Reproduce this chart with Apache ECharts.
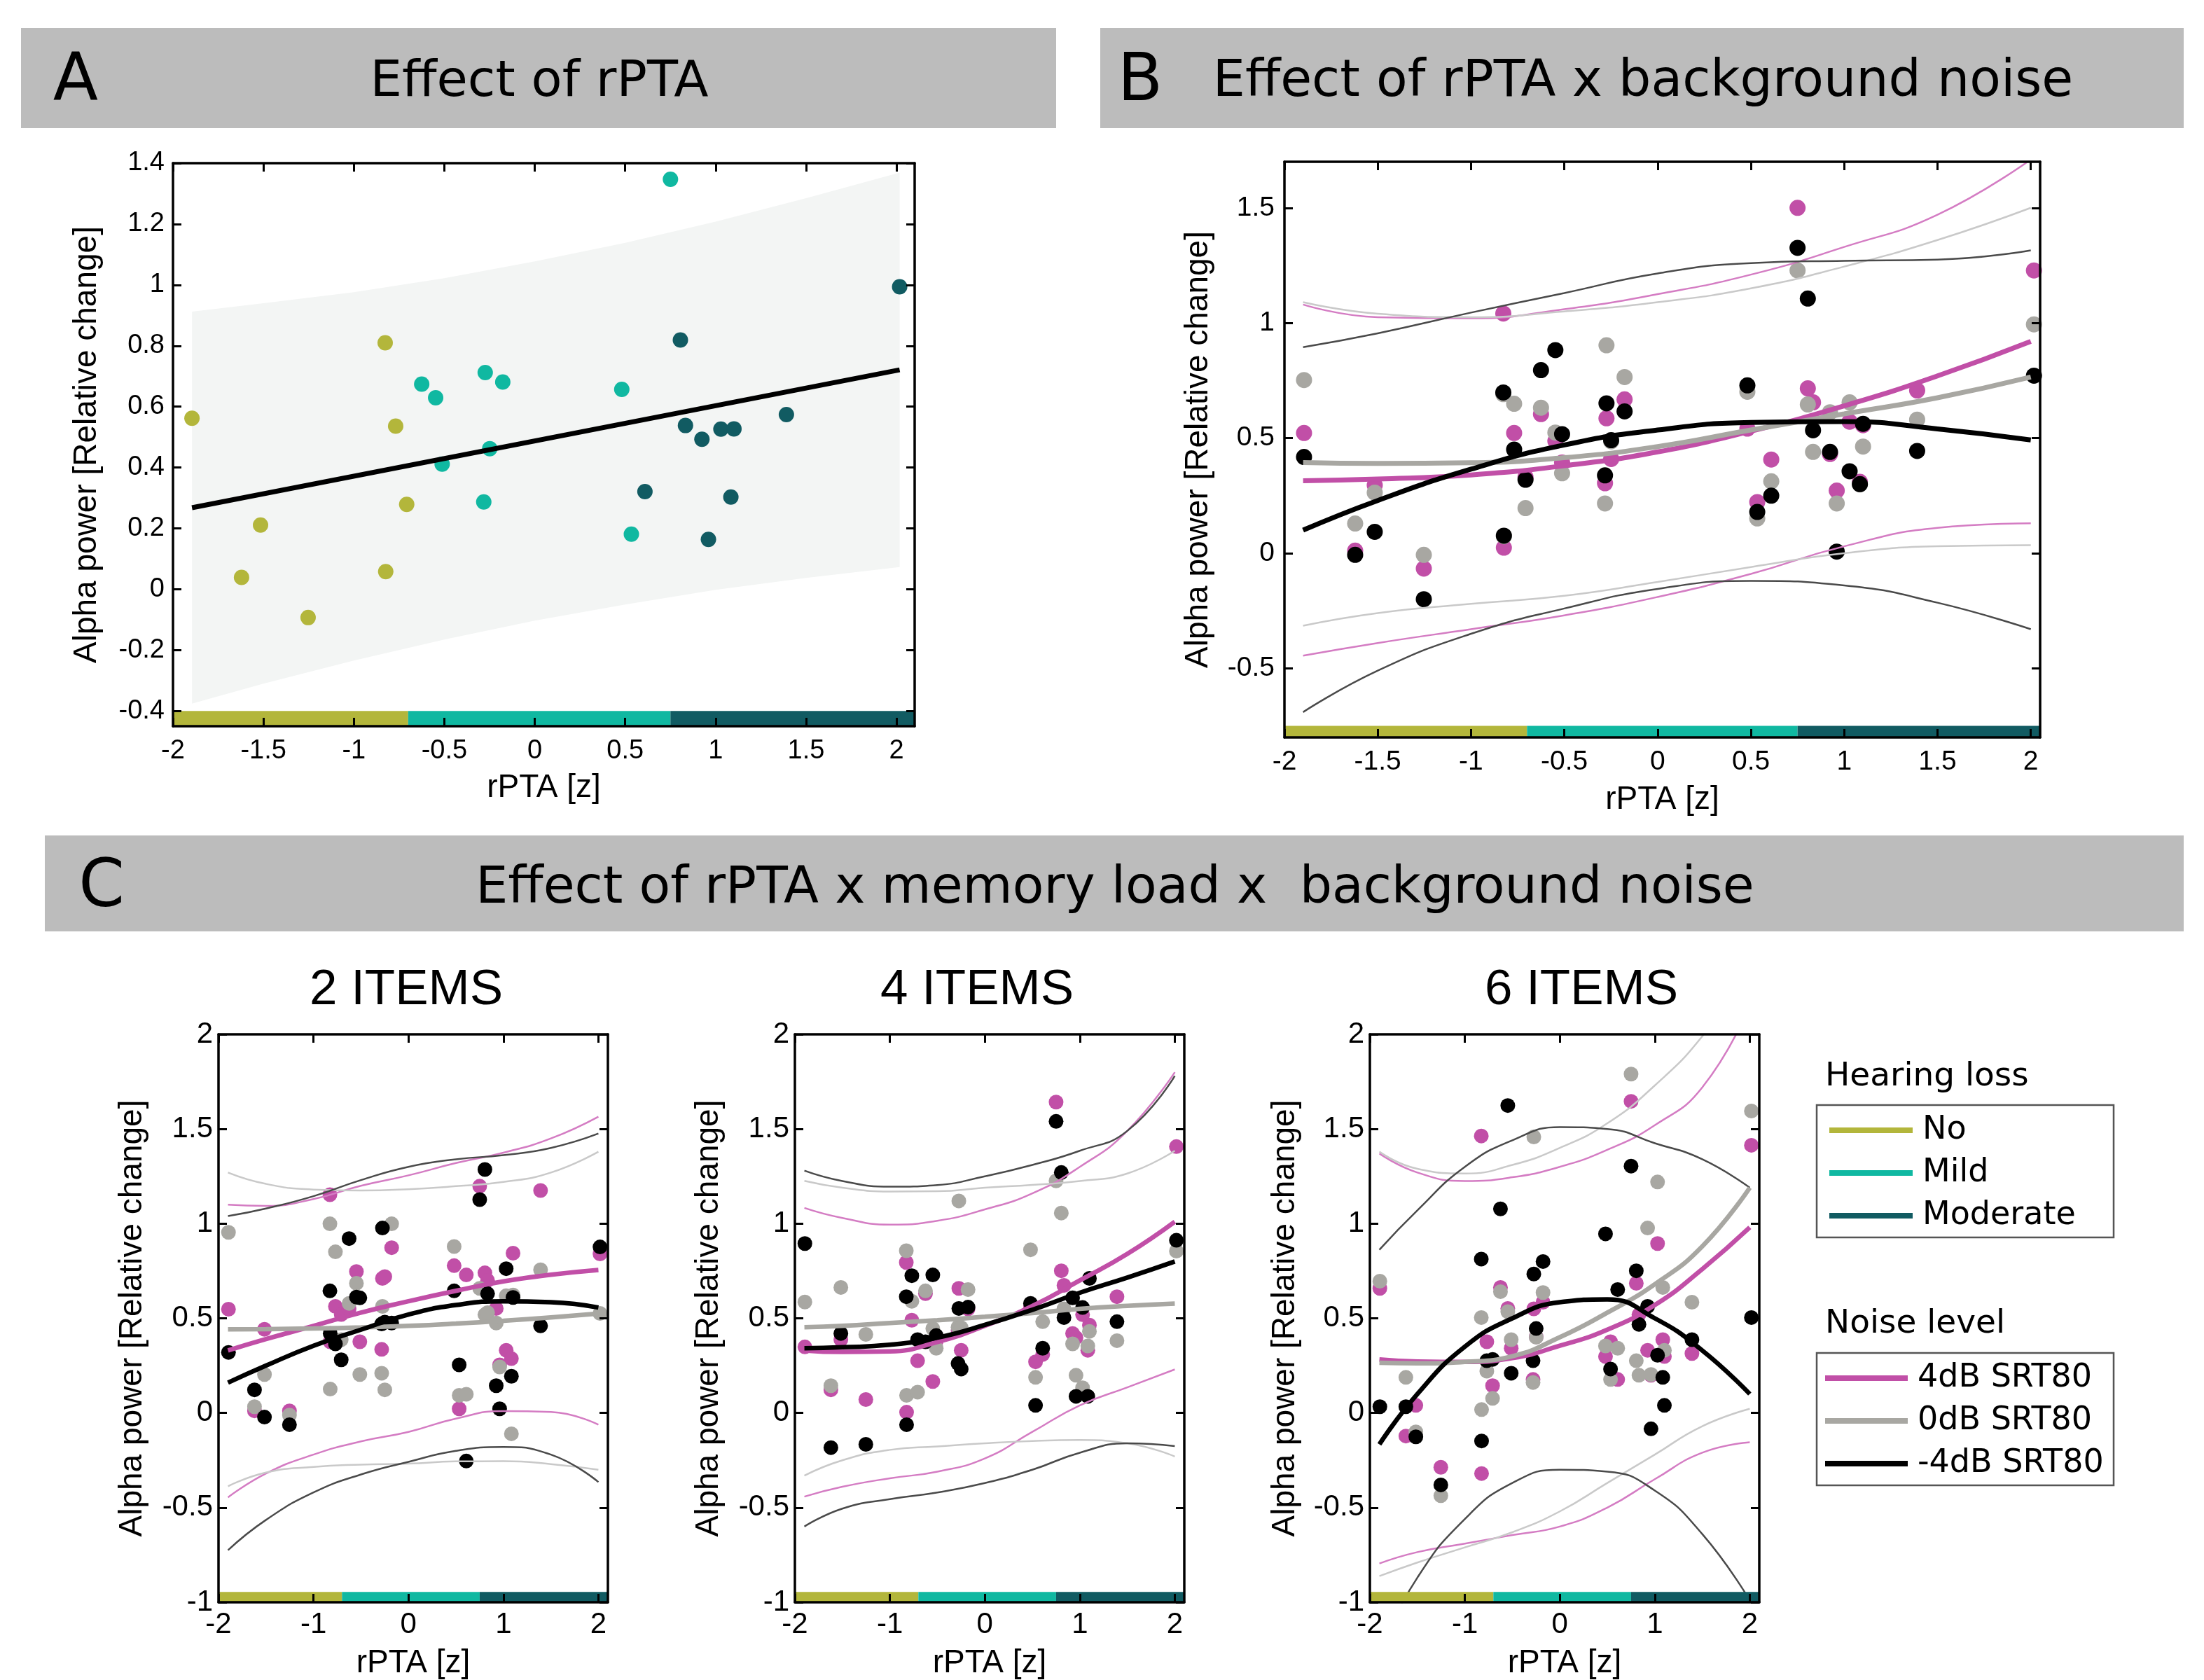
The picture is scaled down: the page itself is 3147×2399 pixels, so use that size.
<!DOCTYPE html>
<html>
<head>
<meta charset="utf-8">
<script src="https://cdn.jsdelivr.net/npm/echarts@6.0.0/dist/echarts.min.js"></script>
<style>
  html, body { margin: 0; padding: 0; background: #fff; }
  #chart { width: 3147px; height: 2399px; }
</style>
</head>
<body>
<div id="chart"></div>
<script>
// ---------- data ----------
// rPTA per subject (same 28 subjects in every panel)
const rpta = [-1.895, -1.621, -1.516, -1.253, -0.827, -0.824, -0.769, -0.708, -0.625, -0.548,
  -0.512, -0.282, -0.274, -0.249, -0.177, 0.481, 0.534, 0.609, 0.750, 0.805,
  0.833, 0.924, 0.960, 1.029, 1.084, 1.101, 1.391, 2.017];
// 0 = No, 1 = Mild, 2 = Moderate hearing loss
const hearingGroup = [0, 0, 0, 0, 0, 0, 0, 0, 1, 1, 1, 1, 1, 1, 1, 1, 1, 2, 1, 2, 2, 2, 2, 2, 2, 2, 2, 2];
const groupNames = ['No', 'Mild', 'Moderate'];
const groupEdges = [-2, -0.7, 0.75, 2.1];

// Panel A
const meanPower = [0.562, 0.039, 0.211, -0.093, 0.81, 0.058, 0.536, 0.279, 0.674, 0.629,
  0.411, 0.287, 0.712, 0.462, 0.681, 0.657, 0.181, 0.321, 1.347, 0.819,
  0.538, 0.493, 0.164, 0.526, 0.303, 0.527, 0.574, 0.994];
const fitLineX = [-1.895, 2.017];
const fitLineY = [0.268, 0.721];
const bandX = [-1.895, -1.5, -1, -0.5, 0, 0.5, 1, 1.5, 2.017];
const bandUpper = [0.912, 0.94, 0.976, 1.022, 1.077, 1.138, 1.208, 1.285, 1.369];
const bandLower = [-0.376, -0.31, -0.234, -0.165, -0.103, -0.05, -0.002, 0.037, 0.073];

// noise levels
const noiseNames = ['4dB SRT80', '0dB SRT80', '-4dB SRT80'];
const fitX = [-1.9, -1.5, -1, -0.5, 0, 0.5, 1, 1.5, 2];

// Panel B
const bPos = [0.522, 0.011, 0.295, -0.067, 1.041, 0.024, 0.522, 0.33, 0.604, 0.487, 0.394, 0.304, 0.586, 0.409,
  0.668, 0.541, 0.222, 0.407, 1.5, 0.716, 0.655, 0.431, 0.272, 0.571, 0.31, 0.556, 0.707, 1.228];
const bZero = [0.752, 0.129, 0.263, -0.007, 0.691, 0.074, 0.649, 0.196, 0.632, 0.524, 0.347, 0.216, 0.903, 0.486,
  0.765, 0.701, 0.151, 0.312, 1.228, 0.646, 0.44, 0.612, 0.216, 0.655, 0.299, 0.463, 0.58, 0.994];
const bNeg = [0.418, -0.007, 0.093, -0.2, 0.698, 0.076, 0.45, 0.319, 0.795, 0.882, 0.517, 0.338, 0.651, 0.491,
  0.616, 0.729, 0.179, 0.25, 1.326, 1.106, 0.534, 0.44, 0.007, 0.356, 0.3, 0.562, 0.444, 0.771];
const bFitPos = [0.315, 0.322, 0.34, 0.38, 0.44, 0.53, 0.64, 0.77, 0.92];
const bFitZero = [0.394, 0.39, 0.393, 0.415, 0.463, 0.535, 0.605, 0.675, 0.765];
const bFitNeg = [0.10, 0.229, 0.365, 0.47, 0.535, 0.568, 0.572, 0.54, 0.492];
const bUpPos = [1.08, 1.025, 1.02, 1.06, 1.125, 1.21, 1.33, 1.47, 1.71];
const bUpZero = [1.09, 1.04, 1.025, 1.05, 1.09, 1.15, 1.245, 1.36, 1.50];
const bUpNeg = [0.895, 0.955, 1.045, 1.13, 1.215, 1.26, 1.27, 1.275, 1.315];
const bLoPos = [-0.445, -0.39, -0.33, -0.27, -0.19, -0.09, 0.03, 0.11, 0.13];
const bLoZero = [-0.315, -0.26, -0.22, -0.185, -0.125, -0.06, 0.0, 0.03, 0.035];
const bLoNeg = [-0.69, -0.51, -0.35, -0.24, -0.155, -0.12, -0.14, -0.215, -0.33];

// Panel C, 2 items
const c2Pos = [0.548, 0.011, 0.442, 0.011, 1.153, 0.376, 0.563, 0.52, 0.55, 0.747, 0.376, 0.336, 0.711, 0.72,
  0.873, 0.778, 0.022, 0.729, 1.198, 0.74, 0.70, 0.552, 0.254, 0.331, 0.287, 0.844, 1.175, 0.84];
const c2Zero = [0.954, 0.033, 0.203, -0.011, 0.999, 0.126, 0.851, 0.387, 0.579, 0.685, 0.203, 0.21, 0.563, 0.122,
  0.999, 0.879, 0.093, 0.099, 0.658, 0.519, 0.53, 0.475, 0.243, 0.619, -0.11, 0.623, 0.756, 0.526];
const c2Neg = [0.32, 0.122, -0.022, -0.062, 0.645, 0.42, 0.365, 0.281, 0.921, 0.612, 0.608, 0.47, 0.977, 0.48,
  0.475, 0.645, 0.254, -0.254, 1.127, 1.286, 0.63, 0.144, 0.022, 0.762, 0.194, 0.61, 0.46, 0.877];
const c2FitPos = [0.33, 0.39, 0.46, 0.53, 0.59, 0.645, 0.695, 0.73, 0.755];
const c2FitZero = [0.442, 0.443, 0.446, 0.452, 0.46, 0.472, 0.487, 0.505, 0.525];
const c2FitNeg = [0.16, 0.25, 0.355, 0.44, 0.52, 0.57, 0.59, 0.585, 0.557];
const c2UpPos = [1.10, 1.094, 1.13, 1.2, 1.255, 1.32, 1.375, 1.45, 1.565];
const c2UpZero = [1.27, 1.21, 1.18, 1.175, 1.182, 1.198, 1.22, 1.27, 1.38];
const c2UpNeg = [1.04, 1.08, 1.145, 1.23, 1.30, 1.34, 1.362, 1.40, 1.476];
const c2LoPos = [-0.446, -0.32, -0.22, -0.15, -0.1, -0.03, 0.01, 0.005, -0.062];
const c2LoZero = [-0.387, -0.315, -0.285, -0.273, -0.268, -0.256, -0.255, -0.27, -0.30];
const c2LoNeg = [-0.725, -0.565, -0.42, -0.325, -0.258, -0.2, -0.18, -0.22, -0.365];

// Panel C, 4 items
const c4Pos = [0.349, 0.122, 0.387, 0.071, 0.795, 0.004, 0.49, 0.276, 0.63, 0.166, 0.38, 0.437, 0.658, 0.331,
  0.55, 0.56, 0.27, 0.309, 1.642, 0.751, 0.674, 0.42, 0.398, 0.519, 0.331, 0.464, 0.614, 1.407];
const c4Zero = [0.586, 0.144, 0.663, 0.415, 0.857, 0.093, 0.59, 0.11, 0.645, 0.446, 0.342, 0.453, 1.12, 0.45,
  0.652, 0.862, 0.188, 0.482, 1.226, 1.056, 0.55, 0.365, 0.199, 0.133, 0.354, 0.431, 0.382, 0.855];
const c4Neg = [0.895, -0.183, 0.42, -0.166, 0.614, -0.062, 0.725, 0.387, 0.376, 0.729, 0.409, 0.261, 0.552, 0.232,
  0.559, 0.579, 0.04, 0.342, 1.54, 1.27, 0.504, 0.608, 0.088, 0.557, 0.088, 0.711, 0.482, 0.912];
const c4FitPos = [0.33, 0.322, 0.325, 0.375, 0.46, 0.565, 0.70, 0.84, 1.01];
const c4FitZero = [0.453, 0.46, 0.475, 0.49, 0.508, 0.528, 0.55, 0.566, 0.578];
const c4FitNeg = [0.342, 0.347, 0.36, 0.398, 0.465, 0.545, 0.635, 0.715, 0.80];
const c4UpPos = [1.083, 1.03, 0.995, 1.015, 1.075, 1.16, 1.30, 1.49, 1.80];
const c4UpZero = [1.226, 1.19, 1.17, 1.171, 1.19, 1.205, 1.225, 1.265, 1.385];
const c4UpNeg = [1.28, 1.225, 1.195, 1.204, 1.25, 1.31, 1.385, 1.49, 1.78];
const c4LoPos = [-0.442, -0.39, -0.345, -0.31, -0.24, -0.1, 0.04, 0.135, 0.23];
const c4LoZero = [-0.331, -0.25, -0.195, -0.177, -0.16, -0.148, -0.143, -0.16, -0.23];
const c4LoNeg = [-0.60, -0.505, -0.455, -0.42, -0.37, -0.30, -0.21, -0.16, -0.175];

// Panel C, 6 items
const c6Pos = [0.658, -0.122, 0.04, -0.287, 1.463, -0.32, 0.376, 0.144, 0.663, 0.552, 0.342, 0.177, 0.55, 0.402,
  0.585, 0.298, 0.376, 0.177, 1.646, 0.685, 0.519, 0.331, 0.199, 0.895, 0.387, 0.298, 0.314, 1.414];
const c6Zero = [0.696, 0.188, -0.1, -0.437, 0.504, 0.018, 0.221, 0.077, 0.641, 0.535, 0.387, 0.161, 1.458, 0.40,
  0.636, 0.354, 0.177, 0.342, 1.79, 0.276, 0.199, 0.977, 0.203, 1.22, 0.663, 0.331, 0.585, 1.595];
const c6Neg = [0.033, 0.033, -0.126, -0.38, 0.813, -0.148, 0.276, 0.283, 1.078, 1.624, 0.21, 0.276, 0.734, 0.446,
  0.8, 0.946, 0.232, 0.652, 1.304, 0.751, 0.468, 0.563, -0.084, 0.305, 0.188, 0.04, 0.387, 0.504];
const c6FitPos = [0.283, 0.272, 0.27, 0.29, 0.355, 0.44, 0.57, 0.76, 0.98];
const c6FitZero = [0.265, 0.262, 0.27, 0.30, 0.40, 0.53, 0.68, 0.88, 1.19];
const c6FitNeg = [-0.166, 0.10, 0.35, 0.50, 0.585, 0.60, 0.50, 0.33, 0.10];
const c6UpPos = [1.37, 1.27, 1.225, 1.245, 1.30, 1.39, 1.52, 1.72, 2.15];
const c6UpZero = [1.38, 1.29, 1.265, 1.31, 1.40, 1.53, 1.73, 1.99, 2.35];
const c6UpNeg = [0.862, 1.07, 1.30, 1.44, 1.51, 1.50, 1.425, 1.34, 1.19];
const c6LoPos = [-0.795, -0.735, -0.69, -0.645, -0.60, -0.50, -0.35, -0.21, -0.155];
const c6LoZero = [-0.862, -0.79, -0.71, -0.63, -0.52, -0.37, -0.22, -0.07, 0.022];
const c6LoNeg = [-1.25, -0.87, -0.56, -0.37, -0.30, -0.31, -0.41, -0.64, -0.99];

// tick labels
const xTicksAB = [-2, -1.5, -1, -0.5, 0, 0.5, 1, 1.5, 2];
const yTicksA = [-0.4, -0.2, 0, 0.2, 0.4, 0.6, 0.8, 1, 1.2, 1.4];
const yTicksB = [-0.5, 0, 0.5, 1, 1.5];
const xTicksC = [-2, -1, 0, 1, 2];
const yTicksC = [-1, -0.5, 0, 0.5, 1, 1.5, 2];

// ---------- styling ----------
const SANS = 'Liberation Sans';
const VERD = 'DejaVu Sans';
const groupColors = ['#b3b63b', '#10b8a1', '#115b62'];
const dotColors = ['#c14fa7', '#a8a7a2', '#000000'];
const thinColors = ['#d47cc3', '#c9c9c9', '#4a4a4a'];

const myChart = echarts.init(document.getElementById('chart'), null, { renderer: 'canvas' });

// each panel: grid box, axis ranges, ticks, fonts
const panels = [
  { left: 247, top: 233, width: 1059, height: 804, xMin: -2, xMax: 2.1, yMin: -0.45, yMax: 1.4,
    xTicks: xTicksAB, yTicks: yTicksA, tickSize: 38, xMargin: 17, yMargin: 12, xNameGap: 65, yNameGap: 100, barTop: -0.4 },
  { left: 1834, top: 231, width: 1079, height: 822, xMin: -2, xMax: 2.05, yMin: -0.8, yMax: 1.7,
    xTicks: xTicksAB, yTicks: yTicksB, tickSize: 39, xMargin: 16, yMargin: 14, xNameGap: 66, yNameGap: 100, barTop: -0.75 },
  { left: 312, top: 1477, width: 556, height: 814, xMin: -2, xMax: 2.1, yMin: -1, yMax: 2,
    xTicks: xTicksC, yTicks: yTicksC, tickSize: 42, xMargin: 11, yMargin: 8, xNameGap: 64, yNameGap: 100, barTop: -0.945 },
  { left: 1135, top: 1477, width: 556, height: 814, xMin: -2, xMax: 2.1, yMin: -1, yMax: 2,
    xTicks: xTicksC, yTicks: yTicksC, tickSize: 42, xMargin: 11, yMargin: 8, xNameGap: 64, yNameGap: 100, barTop: -0.945 },
  { left: 1956, top: 1477, width: 556, height: 814, xMin: -2, xMax: 2.1, yMin: -1, yMax: 2,
    xTicks: xTicksC, yTicks: yTicksC, tickSize: 42, xMargin: 11, yMargin: 8, xNameGap: 64, yNameGap: 98, barTop: -0.945 }
];

const grids = [];
const xAxes = [];
const yAxes = [];
const lineCommon = { show: true, onZero: false, lineStyle: { color: '#000', width: 3.5 } };
panels.forEach((p, g) => {
  grids.push({ left: p.left, top: p.top, width: p.width, height: p.height, containLabel: false });
  const tick = (vals) => ({ show: true, inside: true, length: 12, customValues: vals, lineStyle: { color: '#000', width: 3 } });
  xAxes.push({
    type: 'value', gridIndex: g, min: p.xMin, max: p.xMax, position: 'bottom', z: 10,
    name: 'rPTA [z]', nameLocation: 'middle', nameGap: p.xNameGap,
    nameTextStyle: { fontFamily: SANS, fontSize: 46, color: '#000' },
    axisLine: lineCommon, axisTick: tick(p.xTicks), splitLine: { show: false },
    axisLabel: { customValues: p.xTicks, margin: p.xMargin, fontFamily: SANS, fontSize: p.tickSize, color: '#000' }
  });
  xAxes.push({
    type: 'value', gridIndex: g, min: p.xMin, max: p.xMax, position: 'top', z: 10,
    axisLine: lineCommon, axisTick: tick(p.xTicks), splitLine: { show: false }, axisLabel: { show: false }
  });
  yAxes.push({
    type: 'value', gridIndex: g, min: p.yMin, max: p.yMax, position: 'left', z: 10,
    name: 'Alpha power [Relative change]', nameLocation: 'middle', nameGap: p.yNameGap,
    nameTextStyle: { fontFamily: SANS, fontSize: 46, color: '#000' },
    axisLine: lineCommon, axisTick: tick(p.yTicks), splitLine: { show: false },
    axisLabel: { customValues: p.yTicks, margin: p.yMargin, fontFamily: SANS, fontSize: p.tickSize, color: '#000' }
  });
  yAxes.push({
    type: 'value', gridIndex: g, min: p.yMin, max: p.yMax, position: 'right', z: 10,
    axisLine: lineCommon, axisTick: tick(p.yTicks), splitLine: { show: false }, axisLabel: { show: false }
  });
});

const pairs = (xs, ys) => xs.map((x, i) => [x, ys[i]]);

// coloured hearing-loss strip along the bottom of each panel
function hearingBar(g) {
  const p = panels[g];
  return {
    type: 'custom', xAxisIndex: 2 * g, yAxisIndex: 2 * g, z: 6, silent: true,
    data: groupNames.map((n, i) => [groupEdges[i], groupEdges[i + 1], i]),
    renderItem: (params, api) => {
      const a = api.coord([Math.max(api.value(0), p.xMin), p.yMin]);
      const b = api.coord([Math.min(api.value(1), p.xMax), p.barTop]);
      return {
        type: 'rect',
        shape: { x: a[0], y: b[1], width: b[0] - a[0], height: a[1] - b[1] },
        style: { fill: groupColors[api.value(2)] }
      };
    }
  };
}

function lineSeries(g, ys, color, width, z, name) {
  const s = {
    type: 'line', xAxisIndex: 2 * g, yAxisIndex: 2 * g, z: z, silent: true,
    data: pairs(fitX, ys), showSymbol: false, smooth: true, clip: true,
    lineStyle: { color: color, width: width }, itemStyle: { color: color }
  };
  if (name) s.name = name;
  return s;
}

function noisePanel(g, pts, fits, ups, los, dotSize, thick) {
  const out = [];
  pts.forEach((ys, k) => {
    out.push({
      type: 'scatter', xAxisIndex: 2 * g, yAxisIndex: 2 * g, z: 2, silent: true,
      data: pairs(rpta, ys), symbol: 'circle', symbolSize: dotSize,
      itemStyle: { color: dotColors[k], opacity: 1 }
    });
  });
  for (let k = 0; k < 3; k++) {
    out.push(lineSeries(g, ups[k], thinColors[k], 2.5, 3));
    out.push(lineSeries(g, los[k], thinColors[k], 2.5, 3));
  }
  for (let k = 0; k < 3; k++) {
    out.push(lineSeries(g, fits[k], dotColors[k], thick, 4, noiseNames[k]));
  }
  out.push(hearingBar(g));
  return out;
}

const series = [];
// Panel A: confidence band, dots by hearing group, regression line
series.push({
  type: 'custom', xAxisIndex: 0, yAxisIndex: 0, z: 1, silent: true, data: [[0, 0]],
  renderItem: (params, api) => {
    const up = bandX.map((x, i) => api.coord([x, bandUpper[i]]));
    const lo = bandX.map((x, i) => api.coord([x, bandLower[i]])).reverse();
    return { type: 'polygon', shape: { points: up.concat(lo) }, style: { fill: '#f3f5f4' } };
  }
});
groupNames.forEach((name, k) => {
  series.push({
    type: 'scatter', name: name, xAxisIndex: 0, yAxisIndex: 0, z: 2, silent: true,
    data: rpta.map((x, i) => [x, meanPower[i], hearingGroup[i]]).filter(d => d[2] === k),
    symbol: 'circle', symbolSize: 22, itemStyle: { color: groupColors[k], opacity: 1 }
  });
});
series.push({
  type: 'line', xAxisIndex: 0, yAxisIndex: 0, z: 4, silent: true, showSymbol: false,
  data: pairs(fitLineX, fitLineY), lineStyle: { color: '#000', width: 7 }
});
series.push(hearingBar(0));

series.push(...noisePanel(1, [bPos, bZero, bNeg], [bFitPos, bFitZero, bFitNeg],
  [bUpPos, bUpZero, bUpNeg], [bLoPos, bLoZero, bLoNeg], 23, 7));
series.push(...noisePanel(2, [c2Pos, c2Zero, c2Neg], [c2FitPos, c2FitZero, c2FitNeg],
  [c2UpPos, c2UpZero, c2UpNeg], [c2LoPos, c2LoZero, c2LoNeg], 21, 6.5));
series.push(...noisePanel(3, [c4Pos, c4Zero, c4Neg], [c4FitPos, c4FitZero, c4FitNeg],
  [c4UpPos, c4UpZero, c4UpNeg], [c4LoPos, c4LoZero, c4LoNeg], 21, 6.5));
series.push(...noisePanel(4, [c6Pos, c6Zero, c6Neg], [c6FitPos, c6FitZero, c6FitNeg],
  [c6UpPos, c6UpZero, c6UpNeg], [c6LoPos, c6LoZero, c6LoNeg], 21, 6.5));

// header bars, panel letters, sub-titles, legend frames
function txt(text, x, y, size, family, align) {
  return {
    type: 'text', z: 20, silent: true,
    style: { text: text, x: x, y: y, fill: '#000', fontSize: size, fontFamily: family,
      align: align || 'center', verticalAlign: 'middle', textAlign: align || 'center', textVerticalAlign: 'middle' }
  };
}
function bar(x, y, w, h) {
  return { type: 'rect', z: 0, silent: true, shape: { x: x, y: y, width: w, height: h }, style: { fill: '#bcbcbc' } };
}
const graphics = [
  bar(30, 40, 1478, 143), bar(1571, 40, 1547, 143), bar(64, 1193, 3054, 137),
  txt('A', 108, 119, 94, VERD), txt('Effect of rPTA', 770, 118, 72, VERD),
  txt('B', 1628, 119, 94, VERD), txt('Effect of rPTA x background noise', 2346, 118, 73, VERD),
  txt('C', 145, 1270, 94, VERD), txt('Effect of rPTA x memory load x  background noise', 1592, 1270, 73, VERD),
  txt('2 ITEMS', 580, 1414, 71, SANS), txt('4 ITEMS', 1395, 1414, 71, SANS), txt('6 ITEMS', 2258, 1414, 71, SANS),
  txt('Hearing loss', 2606, 1538, 47, VERD, 'left'), txt('Noise level', 2606, 1891, 47, VERD, 'left'),
  { type: 'rect', z: 1, silent: true, shape: { x: 2594, y: 1578, width: 424, height: 189 },
    style: { fill: '#fff', stroke: '#555', lineWidth: 2.5 } },
  { type: 'rect', z: 1, silent: true, shape: { x: 2594, y: 1932, width: 424, height: 189 },
    style: { fill: '#fff', stroke: '#555', lineWidth: 2.5 } }
];

const legendText = { fontFamily: VERD, fontSize: 46, lineHeight: 50, color: '#000', padding: [0, 0, 0, 9] };
const option = {
  backgroundColor: '#fff',
  animation: false,
  grid: grids,
  xAxis: xAxes,
  yAxis: yAxes,
  legend: [
    { left: 2612, top: 1589, orient: 'vertical', itemWidth: 119, itemHeight: 8, itemGap: 11, icon: 'rect',
      selectedMode: false, padding: 0, z: 30, textStyle: legendText,
      data: groupNames.map((n, i) => ({ name: n, itemStyle: { color: groupColors[i], borderWidth: 0 } })) },
    { left: 2606, top: 1943, orient: 'vertical', itemWidth: 118, itemHeight: 8, itemGap: 11, icon: 'rect',
      selectedMode: false, padding: 0, z: 30, textStyle: legendText,
      data: noiseNames.map((n, i) => ({ name: n, itemStyle: { color: dotColors[i], borderWidth: 0 } })) }
  ],
  graphic: { elements: graphics },
  series: series
};
myChart.setOption(option);
</script>
</body>
</html>
